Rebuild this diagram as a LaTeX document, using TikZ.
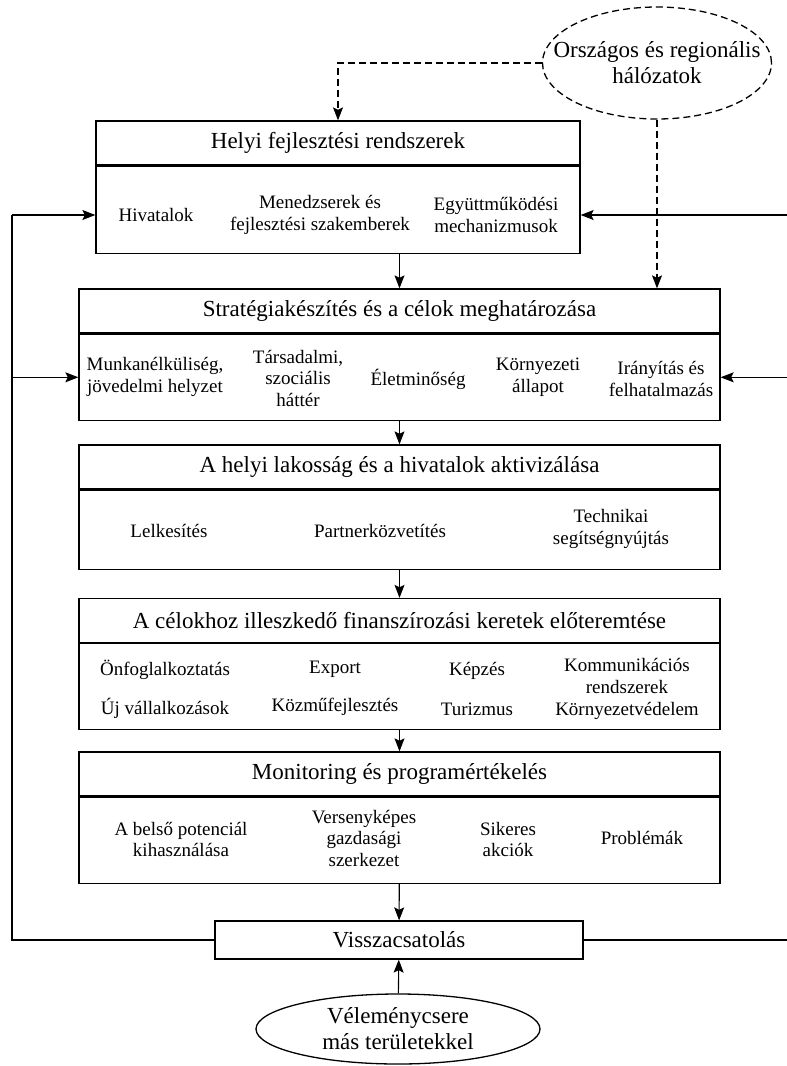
\documentclass[tikz,border=0pt]{standalone}
\usepackage{fontspec}
\setmainfont{Liberation Serif}
\usepackage{tikz}
\usetikzlibrary{positioning, arrows.meta, shapes.geometric}

\begin{document}
\begin{tikzpicture}[x=1pt, y=-1pt,
    stage/.style={draw, line width=1.3pt, inner sep=0pt, minimum height=44pt,
                  font=\fontsize{23}{26}\selectfont},
    stagebody/.style={draw, line width=1.3pt, inner sep=0pt},
    entry/.style={align=center, inner sep=0pt, font=\fontsize{19}{21.5}\selectfont},
    bubble/.style={draw, ellipse, line width=1.3pt, inner xsep=-30pt, inner ysep=-5pt,
                   align=center, font=\fontsize{23}{26}\selectfont},
    arr/.style={-{Stealth[length=13pt, width=10pt, inset=2.5pt]}, line width=1.1pt},
    dasharr/.style={arr, dash pattern=on 7pt off 4pt}]

  \useasboundingbox (0,0) rectangle (787,1066);
  \coordinate (bal) at (12,0);
  \coordinate (jobb) at (787,0);

  \node[bubble, dash pattern=on 7pt off 4pt, minimum width=229pt, minimum height=112pt]
        (halozat) at (657,63) {Országos és regionális\\hálózatok};

  % Helyi fejlesztési rendszerek
  \node[stage, minimum width=484pt] (helyi) at (338,143) {Helyi fejlesztési rendszerek};
  \node[stagebody, minimum width=484pt, minimum height=87pt, below=0pt of helyi] (helyibody) {};
  \node[entry] (hivatal) at (156,215) {Hivatalok};
  \node[entry] (menedzser) at (320,215) {Menedzserek és\\fejlesztési szakemberek};
  \node[entry] (egyutt) at (496,215) {Együttműködési\\mechanizmusok};

  % Stratégiakészítés
  \node[stage, minimum width=641pt] (strat) at (399.5,311) {Stratégiakészítés és a célok meghatározása};
  \node[stagebody, minimum width=641pt, minimum height=86pt, below=0pt of strat] (stratbody) {};
  \node[entry] (munka) at (155,377) {Munkanélküliség,\\jövedelmi helyzet};
  \node[entry] (tars) at (298,378) {Társadalmi,\\szociális\\háttér};
  \node[entry] (elet) at (418,379) {Életminőség};
  \node[entry] (korny) at (538,377) {Környezeti\\állapot};
  \node[entry] (irany) at (661,379) {Irányítás és\\felhatalmazás};

  % Aktivizálás
  \node[stage, minimum width=641pt] (aktiv) at (399.5,467) {A helyi lakosság és a hivatalok aktivizálása};
  \node[stagebody, minimum width=641pt, minimum height=79pt, below=0pt of aktiv] (aktivbody) {};
  \node[entry] (lelkes) at (169,531) {Lelkesítés};
  \node[entry] (partner) at (380,531) {Partnerközvetítés};
  \node[entry] (technika) at (611,529) {Technikai\\segítségnyújtás};

  % Finanszírozás
  \node[stage, minimum width=641pt] (finansz) at (399.5,620.5) {A célokhoz illeszkedő finanszírozási keretek előteremtése};
  \node[stagebody, minimum width=641pt, minimum height=86pt, below=0pt of finansz] (finanszbody) {};
  \node[entry] (onfog) at (165,670) {Önfoglalkoztatás};
  \node[entry] (export) at (335,669) {Export};
  \node[entry] (kepzes) at (477,671) {Képzés};
  \node[entry] (kommu) at (627,676) {Kommunikációs\\rendszerek};
  \node[entry] (ujvall) at (165,708) {Új vállalkozások};
  \node[entry] (kozmu) at (335,707) {Közműfejlesztés};
  \node[entry] (turiz) at (477,709) {Turizmus};
  \node[entry] (kornyved) at (627,711) {Környezetvédelem};

  % Monitoring
  \node[stage, minimum width=641pt] (monitor) at (399.5,774) {Monitoring és programértékelés};
  \node[stagebody, minimum width=641pt, minimum height=86pt, below=0pt of monitor] (monitorbody) {};
  \node[entry] (belso) at (181,839.5) {A belső potenciál\\kihasználása};
  \node[entry] (verseny) at (364,838) {Versenyképes\\gazdasági\\szerkezet};
  \node[entry] (sikeres) at (508,839.5) {Sikeres\\akciók};
  \node[entry] (probl) at (642,838) {Problémák};

  \node[stage, minimum width=368pt, minimum height=38pt] (vissza) at (399,940) {Visszacsatolás};
  \node[bubble, minimum width=284pt, minimum height=70pt] (velemeny) at (398,1029)
        {Véleménycsere\\más területekkel};

  % connectors
  \draw[dasharr] (halozat.west) -| (helyi.north);
  \draw[dasharr] (halozat.south) -- (halozat.south |- strat.north);
  \draw[arr] (helyibody.south -| strat.north) -- (strat.north);
  \draw[arr] (stratbody) -- (aktiv);
  \draw[arr] (aktivbody) -- (finansz);
  \draw[arr] (finanszbody) -- (monitor);
  \draw[arr] (monitorbody) -- (vissza);
  \draw[arr] (velemeny) -- (vissza);

  \draw[line width=1.1pt] (vissza.west) -- (vissza.west -| bal) -- (bal |- hivatal);
  \draw[arr] (bal |- hivatal) -- (helyibody.west |- hivatal);
  \draw[arr] (bal |- stratbody.west) -- (stratbody.west);
  \draw[line width=1.1pt] (vissza.east) -- (vissza.east -| jobb);
  \draw[arr] (jobb |- egyutt) -- (helyibody.east |- egyutt);
  \draw[arr] (jobb |- stratbody.east) -- (stratbody.east);
\end{tikzpicture}
\end{document}
